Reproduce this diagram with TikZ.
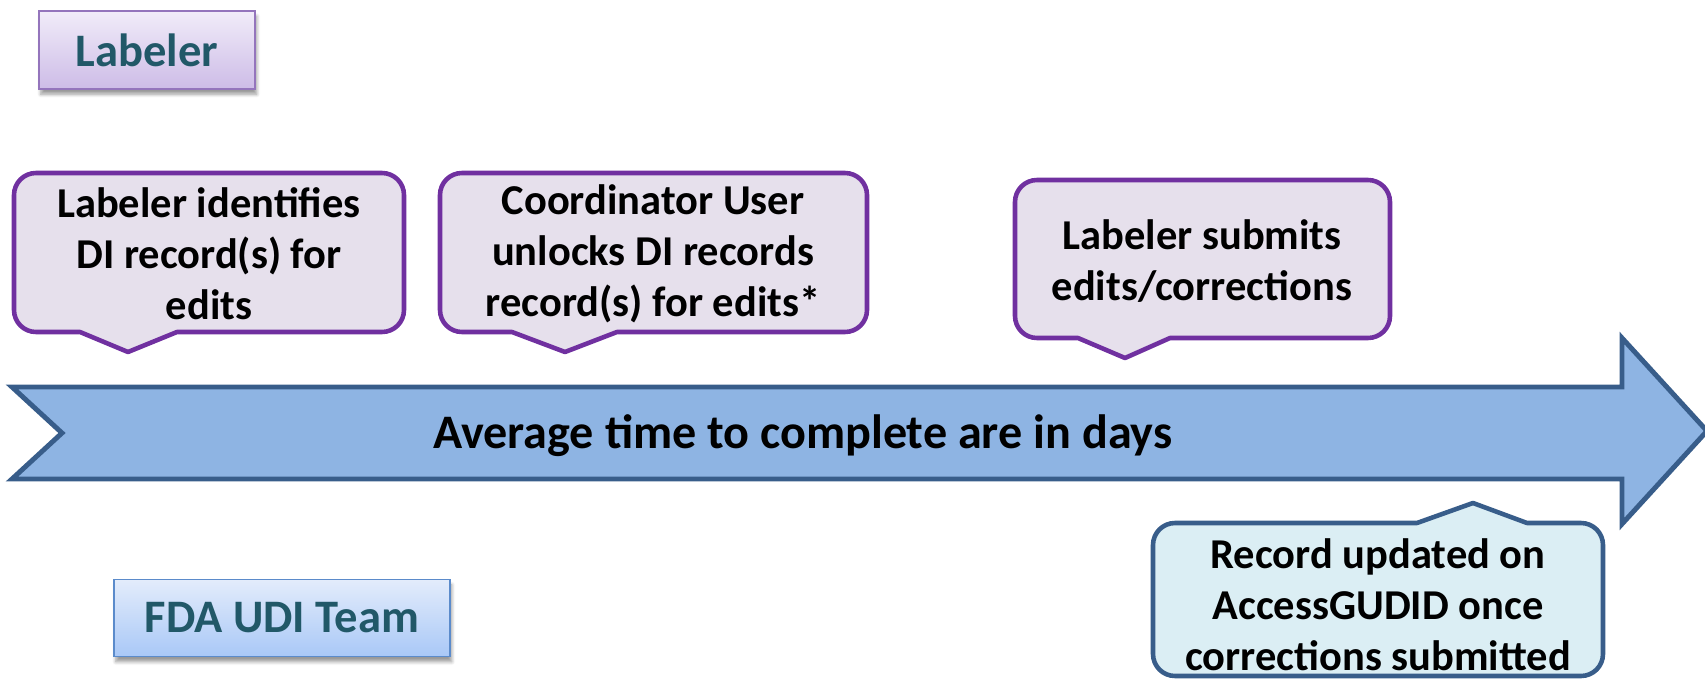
\documentclass[tikz,border=0pt]{standalone}
\usepackage{fontspec}
\setmainfont{Carlito}
\usetikzlibrary{shadows.blur}
\definecolor{callpurple}{HTML}{7030A0}
\definecolor{calllilac}{HTML}{E6E0EC}
\definecolor{callblue}{HTML}{DBEEF4}
\definecolor{arrowline}{HTML}{385D8A}
\definecolor{arrowfill}{HTML}{8EB4E3}
\definecolor{roleteal}{HTML}{215868}
\definecolor{labelerline}{HTML}{9475BC}
\definecolor{labelertop}{HTML}{F1ECF9}
\definecolor{labelerbottom}{HTML}{CDBCE7}
\definecolor{fdaline}{HTML}{5B8BCB}
\definecolor{fdatop}{HTML}{E3ECFB}
\definecolor{fdabottom}{HTML}{A9C8F7}
% rounded callout with its pointer on the bottom side
\def\callbelow[#1](#2,#3)(#4,#5)(#6:#7:#8,#9){\draw[#1] (#7,#9) -- (#8,#5) -- ({#4-22},#5) arc (90:0:22) -- (#4,{#3+22}) arc (0:-90:22) -- ({#2+22},#3) arc (270:180:22) -- (#2,{#5-22}) arc (180:90:22) -- (#6,#5) -- cycle;}
\tikzset{
  purplecall/.style={line width=2.6pt, draw=callpurple, fill=calllilac, line join=round},
  bluecall/.style={line width=2.6pt, draw=arrowline, fill=callblue, line join=round},
  timearrow/.style={line width=2.8pt, draw=arrowline, fill=arrowfill, line join=miter},
  calltext/.style={align=center, inner sep=0pt, font=\fontsize{24.2}{29}\selectfont\bfseries},
  arrowtext/.style={inner sep=0pt, font=\fontsize{27.4}{32}\selectfont\bfseries},
  rolebox/.style={draw, line width=1pt, inner sep=0pt, text=roleteal,
    font=\fontsize{26.5}{31}\selectfont\bfseries,
    blur shadow={shadow xshift=1pt, shadow yshift=-3pt, shadow blur steps=6}},
  labelerbox/.style={rolebox, draw=labelerline, top color=labelertop, bottom color=labelerbottom,
    minimum width=4.32cm, minimum height=1.56cm},
  fdabox/.style={rolebox, draw=fdaline, top color=fdatop, bottom color=fdabottom,
    minimum width=6.72cm, minimum height=1.54cm}
}

\begin{document}
\begin{tikzpicture}[x=0.02cm, y=-0.02cm]
		%%%%% START %%%%%
		\useasboundingbox (0,0) rectangle (1705,679);
		
		\node[labelerbox] (labeler) at (147,50) {Labeler};
		
		\draw[timearrow] (12,387) -- (1622,387) -- (1622,338) -- (1707,431) -- (1622,524) -- (1622,479) -- (12,479) -- (62,433) -- cycle;
		\node[arrowtext] (avgtime) at (803,436) {Average time to complete are in days};
		
		% callouts above the arrow
		\callbelow[purplecall](14,173)(404,332)(80:128:177,352)
		\node[calltext] (identify) at (209,254) {Labeler identifies\\DI record(s) for\\edits};
		
		\callbelow[purplecall](440,173)(867,332)(512:565:617,352)
		\node[calltext] (unlock) at (653,254) {Coordinator User\\unlocks DI records\\record(s) for edits*};
		
		\callbelow[purplecall](1015,180)(1390,338)(1078:1125:1170,358)
		\node[calltext] (submit) at (1202,261) {Labeler submits\\edits/corrections};
		
		% callout below the arrow
		\draw[bluecall] (1473,503) -- (1527,523) -- (1581,523) arc (270:360:22) -- (1603,654) arc (0:90:22) -- (1175,676) arc (90:180:22) -- (1153,545) arc (180:270:22) -- (1417,523) -- cycle;
		\node[calltext] (update) at (1378,605) {Record updated on\\AccessGUDID once\\corrections submitted};
		
		\node[fdabox] (fda) at (282,618) {FDA UDI Team};
		
		%%%%% END %%%%%
\end{tikzpicture}
\end{document}
